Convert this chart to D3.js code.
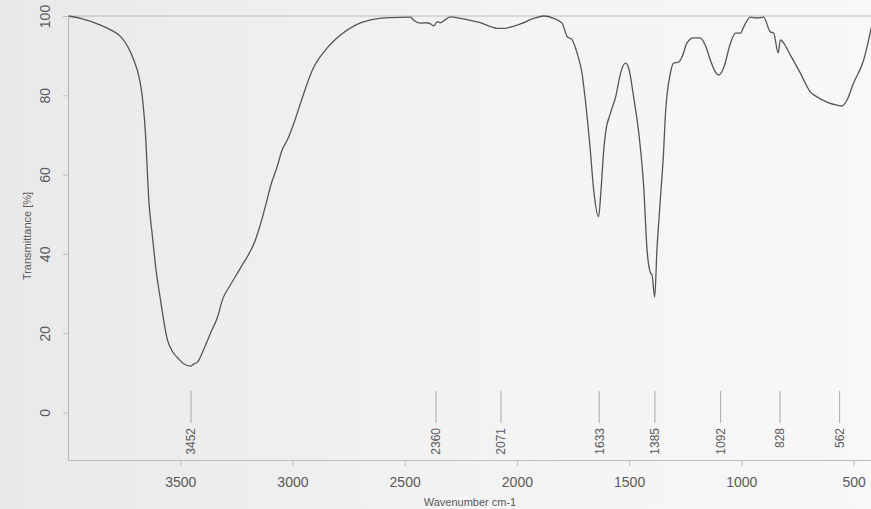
<!DOCTYPE html>
<html lang="en">
  <head>
    <meta charset="UTF-8" />
    <title>FTIR spectrum</title>
    <style>
      body {
        margin: 0;
        background: #efefef;
      }
      svg {
        display: block;
        font-family: "Liberation Sans", Arial, sans-serif;
      }
      .tick-lab {
        fill: #5a5a5a;
        font-size: 14px;
      }
      .peak-lab {
        fill: #5a5a5a;
        font-size: 12px;
      }
    </style>
  </head>
  <body>
    <svg width="871" height="509"></svg>
    <script src="https://cdn.jsdelivr.net/npm/d3@7"></script>
    <script>
      // wavenumber (cm-1) and transmittance (%)
      const wavenumber = [
        3997, 3944, 3855, 3810, 3765, 3734, 3707, 3684, 3669, 3655, 3640, 3623,
        3610, 3588, 3557, 3534, 3512, 3485, 3454, 3440, 3423, 3396, 3365, 3334,
        3312, 3276, 3232, 3165, 3113, 3098, 3068, 3046, 3023, 2994, 2964, 2911,
        2853, 2786, 2719, 2652, 2563, 2474, 2461, 2430, 2400, 2385, 2370, 2355,
        2341, 2311, 2296, 2252, 2163, 2088, 2059, 1984, 1925, 1881, 1836, 1799,
        1776, 1754, 1732, 1710, 1695, 1673, 1658, 1636, 1625, 1613, 1605, 1583,
        1560, 1538, 1516, 1502, 1480, 1457, 1435, 1420, 1405, 1398, 1386, 1376,
        1361, 1346, 1339, 1316, 1302, 1279, 1264, 1242, 1213, 1183, 1161, 1138,
        1116, 1101, 1079, 1048, 1026, 1004, 990, 960, 930, 901, 871, 856, 836,
        826, 812, 782, 737, 692, 663, 618, 574, 552, 529, 500, 455, 433, 421,
        400
      ];
      const transmittance = [
        100, 99.4, 97.7, 96.5, 94.8, 92.3, 88.9, 84.7, 79.7, 70.4, 53.6, 44,
        37, 28.4, 18.3, 15.3, 13.8, 12.3, 11.7, 12.2, 12.7, 15.8, 20, 24, 28.4,
        32.2, 36.4, 43.5, 53.6, 57, 62, 66.2, 68.7, 72.9, 78, 86.4, 91.4, 95.2,
        97.7, 99, 99.6, 99.7, 99, 98.2, 98.3, 98, 97.5, 98.6, 98.3, 99.4, 99.8,
        99.4, 98.3, 96.9, 96.9, 98, 99.4, 100, 99.4, 98.2, 94.8, 94, 90.7, 85.6,
        78.8, 66.2, 56.2, 49.4, 56.2, 66.2, 70.5, 75.5, 79.6, 85.6, 88.1, 86.9,
        79.6, 70.5, 56.9, 41, 35.2, 34.7, 29.1, 41, 53.6, 66.2, 74.5, 85.6, 88.1,
        88.4, 89.7, 93.2, 94.5, 94.5, 92.7, 88.9, 85.9, 85.1, 86.9, 93.2, 95.7,
        95.7, 97.2, 99.7, 99.5, 99.7, 96, 95.7, 90.7, 94, 93.2, 90.2, 85.6, 80.8,
        79.6, 78.3, 77.5, 77.3, 78.8, 83.1, 88.9, 93.9, 97, 100
      ];
      const peakLabels = [3452, 2360, 2071, 1633, 1385, 1092, 828, 562];
      const xTicks = [3500, 3000, 2500, 2000, 1500, 1000, 500];
      const yTicks = [0, 20, 40, 60, 80, 100];

      const svg = d3.select("svg");

      // page tone of the scanned printout
      const grad = svg.append("defs").append("linearGradient").attr("id", "paper");
      grad.append("stop").attr("offset", "0%").attr("stop-color", "#e9e9e9");
      grad.append("stop").attr("offset", "55%").attr("stop-color", "#f3f3f3");
      grad.append("stop").attr("offset", "100%").attr("stop-color", "#f8f8f8");
      svg.append("rect").attr("width", 871).attr("height", 509).attr("fill", "url(#paper)");

      const plotLeft = 68, plotTop = 16, plotBottom = 460, plotRight = 876;
      const x = d3.scaleLinear().domain([4000, 400]).range([plotLeft, plotRight]);
      const y = d3.scaleLinear().domain([-12, 100]).range([plotBottom, plotTop]);

      svg.append("defs").append("clipPath").attr("id", "plot")
        .append("rect").attr("x", plotLeft).attr("y", plotTop - 2)
        .attr("width", plotRight - plotLeft).attr("height", plotBottom - plotTop + 2);

      // frame
      svg.append("line").attr("x1", plotLeft).attr("x2", 871).attr("y1", plotTop).attr("y2", plotTop)
        .attr("stroke", "#bdbdbd").attr("stroke-width", 1.2);

      // x axis
      const xAxis = svg.append("g").attr("transform", `translate(0,${plotBottom})`)
        .call(d3.axisBottom(x).tickValues(xTicks).tickSize(6).tickSizeOuter(0).tickFormat(d3.format("d")));
      xAxis.select(".domain").attr("stroke", "#bdbdbd").attr("stroke-width", 1.2);
      xAxis.selectAll(".tick line").attr("stroke", "#bdbdbd");
      xAxis.selectAll(".tick text").attr("class", "tick-lab").attr("y", 17).attr("dy", "0.71em");

      // y axis, labels turned like base R
      const yAxis = svg.append("g").attr("transform", `translate(${plotLeft},0)`)
        .call(d3.axisLeft(y).tickValues(yTicks).tickSize(5).tickSizeOuter(0));
      yAxis.select(".domain").attr("stroke", "#bdbdbd").attr("stroke-width", 1.2);
      yAxis.selectAll(".tick line").attr("stroke", "#bdbdbd");
      yAxis.selectAll(".tick text")
        .attr("class", "tick-lab")
        .attr("x", null)
        .attr("text-anchor", "middle")
        .attr("transform", "translate(-23,0) rotate(-90)")
        .attr("dy", "0.36em");

      // axis titles
      svg.append("text").attr("x", 470).attr("y", 506)
        .attr("text-anchor", "middle").attr("fill", "#5a5a5a").attr("font-size", 11)
        .text("Wavenumber cm-1");
      svg.append("text").attr("transform", "translate(31,236) rotate(-90)")
        .attr("text-anchor", "middle").attr("fill", "#5a5a5a").attr("font-size", 11)
        .text("Transmittance [%]");

      // peak markers
      const peaks = svg.append("g").selectAll("g").data(peakLabels).join("g")
        .attr("transform", (d) => `translate(${x(d)},0)`);
      peaks.append("line").attr("y1", 391).attr("y2", 423)
        .attr("stroke", "#a8a8a8").attr("stroke-width", 1);
      peaks.append("text").attr("class", "peak-lab")
        .attr("transform", "translate(0,428) rotate(-90)")
        .attr("text-anchor", "end").attr("dy", "0.36em")
        .text((d) => d);

      // spectrum
      const data = wavenumber.map((w, i) => ({ w: w, t: transmittance[i] }));
      const line = d3.line().x((d) => x(d.w)).y((d) => y(d.t)).curve(d3.curveMonotoneX);
      svg.append("path").datum(data)
        .attr("clip-path", "url(#plot)")
        .attr("d", line)
        .attr("fill", "none")
        .attr("stroke", "#555")
        .attr("stroke-width", 1.3);
    </script>
  </body>
</html>
